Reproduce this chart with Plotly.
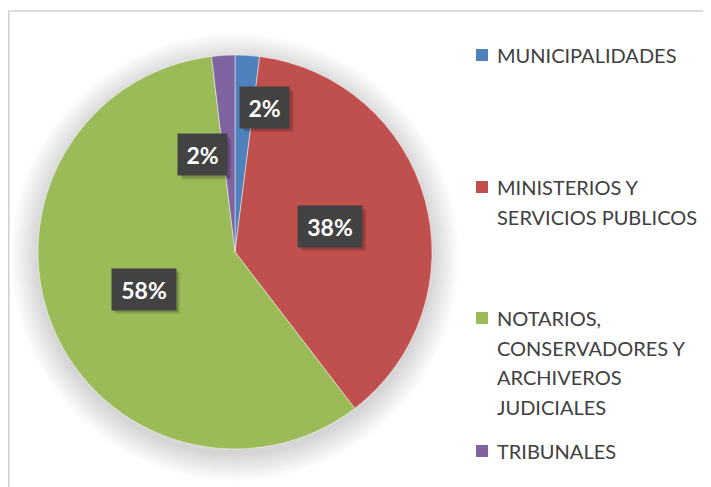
import plotly.graph_objects as go
import math

# ---- data ----
categories = ["MUNICIPALIDADES", "MINISTERIOS Y SERVICIOS PUBLICOS",
              "NOTARIOS, CONSERVADORES Y ARCHIVEROS JUDICIALES", "TRIBUNALES"]
legend_lines = [["MUNICIPALIDADES"],
                ["MINISTERIOS Y", "SERVICIOS PUBLICOS"],
                ["NOTARIOS,", "CONSERVADORES Y", "ARCHIVEROS", "JUDICIALES"],
                ["TRIBUNALES"]]
values = [2.0, 37.6, 58.5, 1.9]
colors = ["#4F81BD", "#C0504D", "#9BBB59", "#8064A2"]

W, H = 711, 487
OFF = 8                      # page body margin compensation
CX, CY, R = 235, 252, 197    # pie centre / radius in page px

def px(x):
    return (x - OFF) / W

def py(y):
    return 1 - (y - OFF) / H

fig = go.Figure()
fig.add_trace(go.Pie(
    labels=categories, values=values, sort=False, direction="clockwise",
    rotation=0, marker=dict(colors=colors, line=dict(color="rgba(255,255,255,0.6)", width=0.8)),
    textinfo="none", showlegend=False,
    domain=dict(x=[px(CX - R), px(CX + R)], y=[py(CY + R), py(CY - R)]),
))

shapes = []
# soft shadow behind pie
for k in range(14):
    e = 1 + k * 2
    shapes.append(dict(type="circle", xref="paper", yref="paper", layer="below",
                       x0=px(CX - R - e), x1=px(CX + R + e),
                       y0=py(CY + 5 + R + e), y1=py(CY + 5 - R - e),
                       fillcolor="rgba(0,0,0,0.012)", line=dict(width=0)))
# frame
shapes.append(dict(type="line", xref="paper", yref="paper", x0=px(8.8), x1=1.0, y0=py(11), y1=py(11),
                   line=dict(color="#d0d0d0", width=1.5)))
shapes.append(dict(type="line", xref="paper", yref="paper", x0=px(8.8), x1=px(8.8), y0=py(11), y1=0,
                   line=dict(color="#d0d0d0", width=1.5)))

annotations = []
# data labels
total = sum(values)
label_shift = [8, 0, 0, -15]
label_r = [0.75, 0.5, 0.5, 0.52]
label_w = [43, 58, 58, 43]
BOX_H, PAD = 35, 3
cum = 0
for i, v in enumerate(values):
    mid = (cum + v / 2) / total * 360
    cum += v
    th = math.radians(mid + label_shift[i])
    lx = CX + label_r[i] * R * math.sin(th)
    ly = CY - label_r[i] * R * math.cos(th)
    txt = f"{round(v / total * 100)}%"
    # box shadow (shape)
    hw = label_w[i] / 2 + PAD
    hh = BOX_H / 2 + PAD
    for s, a in ((3, 0.16), (4.5, 0.08)):
        shapes.append(dict(type="rect", xref="paper", yref="paper", layer="above",
                           x0=px(lx - hw + s), x1=px(lx + hw + s),
                           y0=py(ly + hh + s), y1=py(ly - hh + s),
                           fillcolor=f"rgba(0,0,0,{a})", line=dict(width=0)))
    annotations.append(dict(x=px(lx), y=py(ly), xref="paper", yref="paper", showarrow=False,
                            xanchor="center", yanchor="middle", width=label_w[i], height=BOX_H,
                            borderpad=PAD, text=f"<b>{txt}</b>",
                            font=dict(family="Lato", size=23, color="white"),
                            bgcolor="#424242"))

# manual legend
legend_first_y = [55, 187, 318, 451]
line_gap = 29.5
for i, lines in enumerate(legend_lines):
    y0 = legend_first_y[i]
    shapes.append(dict(type="rect", xref="paper", yref="paper",
                       x0=px(476), x1=px(488), y0=py(y0 + 6), y1=py(y0 - 6),
                       fillcolor=colors[i], line=dict(width=0)))
    for j, t in enumerate(lines):
        annotations.append(dict(x=px(495), y=py(y0 + j * line_gap), xref="paper", yref="paper",
                                xanchor="left", yanchor="middle", showarrow=False, text=t,
                                font=dict(family="Lato", size=20, color="#404040")))

fig.update_layout(width=W, height=H, margin=dict(l=0, r=0, t=0, b=0),
                  paper_bgcolor="white", plot_bgcolor="white",
                  shapes=shapes, annotations=annotations)
fig.write_html("out.html")
